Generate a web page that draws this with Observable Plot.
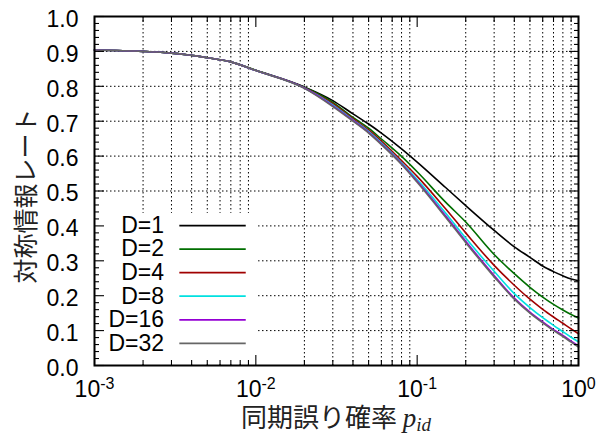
<!DOCTYPE html>
<html><head><meta charset="utf-8">
<script src="https://cdn.jsdelivr.net/npm/d3@7"></script>
<script src="https://cdn.jsdelivr.net/npm/@observablehq/plot@0.6"></script>
<style>body{margin:0;background:#fff;}</style>
</head><body><div id="chart"></div>
<script>
// ---- data ----
const pid = [0.001, 0.002, 0.003, 0.005, 0.007, 0.01, 0.02, 0.03, 0.04, 0.05, 0.06, 0.08, 0.1, 0.15, 0.2, 0.3, 0.4, 0.5, 0.6, 0.7, 0.8, 0.9, 1.0];
const rateD1  = [0.904,0.900,0.895,0.882,0.870,0.846,0.798,0.759,0.721,0.692,0.666,0.621,0.583,0.510,0.458,0.387,0.340,0.310,0.285,0.269,0.257,0.248,0.243];
const rateD2  = [0.904,0.900,0.895,0.882,0.870,0.846,0.797,0.754,0.711,0.680,0.649,0.599,0.555,0.468,0.411,0.318,0.263,0.224,0.196,0.175,0.159,0.146,0.136];
const rateD4  = [0.904,0.900,0.895,0.882,0.870,0.845,0.796,0.750,0.707,0.675,0.643,0.587,0.542,0.449,0.380,0.287,0.230,0.190,0.161,0.139,0.121,0.105,0.091];
const rateD8  = [0.904,0.900,0.895,0.882,0.870,0.845,0.795,0.747,0.704,0.671,0.638,0.581,0.533,0.437,0.365,0.270,0.206,0.166,0.137,0.115,0.097,0.081,0.068];
const rateD16 = [0.904,0.900,0.895,0.882,0.870,0.845,0.795,0.744,0.702,0.668,0.635,0.578,0.528,0.429,0.356,0.258,0.193,0.153,0.125,0.103,0.086,0.070,0.056];
const rateD32 = [0.904,0.900,0.895,0.882,0.870,0.845,0.794,0.742,0.700,0.666,0.633,0.576,0.525,0.425,0.352,0.254,0.190,0.150,0.122,0.100,0.083,0.067,0.053];
const seriesLabels = ["D=1", "D=2", "D=4", "D=8", "D=16", "D=32"];
const seriesValues = [rateD1, rateD2, rateD4, rateD8, rateD16, rateD32];
const seriesColors = ["#000000", "#006e00", "#a00000", "#00e0e0", "#9400d3", "#666666"];

const xMajorTicks = [0.001, 0.01, 0.1, 1];
const xMinorTicks = [0.002,0.003,0.004,0.005,0.006,0.007,0.008,0.009,
                     0.02,0.03,0.04,0.05,0.06,0.07,0.08,0.09,
                     0.2,0.3,0.4,0.5,0.6,0.7,0.8,0.9];
const yMajorTicks = [0,0.1,0.2,0.3,0.4,0.5,0.6,0.7,0.8,0.9,1.0];
const yGridTicks  = [0.1,0.2,0.3,0.4,0.5,0.6,0.7,0.8,0.9];
const yMinorTicks = [0.02,0.04,0.06,0.08,0.12,0.14,0.16,0.18,0.22,0.24,0.26,0.28,0.32,0.34,0.36,0.38,
                     0.42,0.44,0.46,0.48,0.52,0.54,0.56,0.58,0.62,0.64,0.66,0.68,0.72,0.74,0.76,0.78,
                     0.82,0.84,0.86,0.88,0.92,0.94,0.96,0.98];

// ---- legend placement (layout, in data coordinates) ----
const legendTop = 0.401, legendStep = 0.0675;
const legendTextX = 0.00270, legendLineX1 = 0.00338, legendLineX2 = 0.00872;
const legendBox = {x1: 0.001, x2: 0.0104, y1: 0.006, y2: 0.436};

const rows = [];
seriesValues.forEach((vals, k) => vals.forEach((v, i) => rows.push({p: pid[i], r: v, s: seriesLabels[k]})));
const legendRows = seriesLabels.map((s, k) => ({s, y: legendTop - k * legendStep}));

const noText = () => "";
const tickStyle = {stroke: "#000", strokeWidth: 1.1, label: null, tickFormat: noText};
const FS = 23;

const svg = Plot.plot({
  width: 598, height: 436,
  marginLeft: 94, marginRight: 20, marginTop: 16, marginBottom: 71,
  style: {fontFamily: "'Liberation Sans', Arial, sans-serif", fontSize: FS + "px", background: "#fff", color: "#000"},
  x: {type: "log", domain: [0.001, 1]},
  y: {domain: [0, 1]},
  color: {domain: seriesLabels, range: seriesColors},
  marks: [
    Plot.gridX(xMinorTicks, {stroke: "#000", strokeOpacity: 1, strokeWidth: 1, strokeDasharray: "1.5,2.5"}),
    Plot.gridY(yGridTicks, {stroke: "#000", strokeOpacity: 1, strokeWidth: 1, strokeDasharray: "1.5,2.5"}),
    Plot.rect([legendBox], {x1: "x1", x2: "x2", y1: "y1", y2: "y2", fill: "#fff"}),
    Plot.line(rows, {x: "p", y: "r", z: "s", stroke: "s", strokeWidth: 1.6, curve: "monotone-x"}),
    Plot.ruleY(legendRows, {x1: () => legendLineX1, x2: () => legendLineX2, y: "y", stroke: "s", strokeWidth: 1.7}),
    Plot.text(legendRows, {x: () => legendTextX, y: "y", text: "s", textAnchor: "end", fontSize: FS, fill: "#000"}),
    Plot.axisX(xMajorTicks, {anchor: "bottom", tickSize: -10, ...tickStyle}),
    Plot.axisX(xMinorTicks, {anchor: "bottom", tickSize: -5, ...tickStyle}),
    Plot.axisX(xMajorTicks, {anchor: "top", tickSize: -10, ...tickStyle}),
    Plot.axisX(xMinorTicks, {anchor: "top", tickSize: -5, ...tickStyle}),
    Plot.axisY(yMajorTicks, {anchor: "left", tickSize: -10, ...tickStyle}),
    Plot.axisY(yMinorTicks, {anchor: "left", tickSize: -5, ...tickStyle}),
    Plot.axisY(yMajorTicks, {anchor: "right", tickSize: -10, ...tickStyle}),
    Plot.axisY(yMinorTicks, {anchor: "right", tickSize: -5, ...tickStyle}),
    Plot.axisX(xMajorTicks, {anchor: "bottom", tickSize: 0, tickPadding: 15, label: null, fontSize: FS,
      tickFormat: d => "10^" + Math.round(Math.log10(d))}),
    Plot.axisY(yMajorTicks, {anchor: "left", tickSize: 0, tickPadding: 16, label: null, fontSize: FS, dy: 3,
      tickFormat: d3.format(".1f")}),
    Plot.frame({stroke: "#000", strokeWidth: 2})
  ]
});

// superscript exponents on x tick labels
const NS = "http://www.w3.org/2000/svg";
svg.querySelectorAll("text").forEach(t => {
  const m = /^10\^(-?\d+)$/.exec(t.textContent);
  if (!m) return;
  t.textContent = "";
  const a = document.createElementNS(NS, "tspan"); a.textContent = "10";
  const b = document.createElementNS(NS, "tspan"); b.textContent = m[1];
  b.setAttribute("dy", "-0.5em"); b.setAttribute("font-size", "16px");
  t.appendChild(a); t.appendChild(b);
});

// axis titles
const cjk = "'Noto Sans CJK JP', 'Noto Sans CJK SC', sans-serif";
const yt = document.createElementNS(NS, "text");
yt.setAttribute("transform", "translate(35,196) rotate(-90)");
yt.setAttribute("text-anchor", "middle");
yt.setAttribute("font-family", cjk);
yt.setAttribute("font-size", "25px");
yt.setAttribute("fill", "#222");
yt.textContent = "対称情報レート";
svg.appendChild(yt);

const xt = document.createElementNS(NS, "text");
xt.setAttribute("x", 336); xt.setAttribute("y", 427);
xt.setAttribute("text-anchor", "middle");
xt.setAttribute("font-family", cjk);
xt.setAttribute("font-size", "26px");
xt.setAttribute("fill", "#222");
const t1 = document.createElementNS(NS, "tspan"); t1.textContent = "同期誤り確率 ";
const t2 = document.createElementNS(NS, "tspan"); t2.textContent = "p";
t2.setAttribute("font-family", "'Liberation Serif', 'DejaVu Serif', serif"); t2.setAttribute("font-style", "italic");
t2.setAttribute("font-size", "27px");
const t3 = document.createElementNS(NS, "tspan"); t3.textContent = "id";
t3.setAttribute("font-family", "'Liberation Serif', 'DejaVu Serif', serif"); t3.setAttribute("font-style", "italic");
t3.setAttribute("font-size", "19px"); t3.setAttribute("dy", "4");
xt.appendChild(t1); xt.appendChild(t2); xt.appendChild(t3);
svg.appendChild(xt);

document.getElementById("chart").appendChild(svg);
</script>
</body></html>
